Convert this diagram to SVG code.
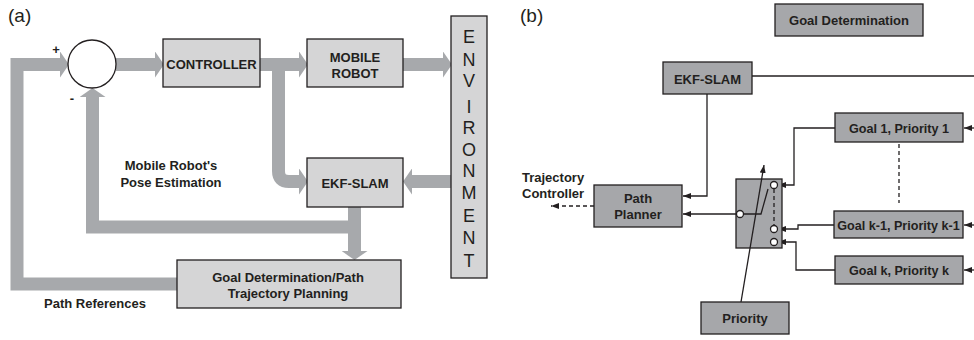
<svg xmlns="http://www.w3.org/2000/svg" width="974" height="340" viewBox="0 0 974 340">
  <style>
    text { font-family: "Liberation Sans", Arial, sans-serif; fill: #231f20; }
    .lbl { font-size: 13px; font-weight: bold; text-anchor: middle; }
    .left { text-anchor: start; }
    .goal { font-size: 12.6px; font-weight: bold; text-anchor: middle; }
    .env { font-size: 18px; text-anchor: middle; }
    .tag { font-size: 19px; }
    .boxA { fill: #d5d5d6; stroke: #231f20; stroke-width: 1.3; }
    .boxB { fill: #a6a7aa; stroke: #231f20; stroke-width: 1.3; }
    .fat { fill: none; stroke: #a7a9ac; stroke-width: 13; stroke-linejoin: miter; marker-end: url(#fatHead); }
    .plain { marker-end: none; }
    .thin { fill: none; stroke: #231f20; stroke-width: 1.3; }
    .arr { marker-end: url(#thinHead); }
    .dash { stroke-dasharray: 4 3; }
    .pin { fill: #ffffff; stroke: #231f20; stroke-width: 1.3; }
  </style>
  <defs>
    <marker id="fatHead" markerUnits="userSpaceOnUse" markerWidth="9" markerHeight="26" viewBox="0 0 9 26" refX="0" refY="13" orient="auto">
      <path d="M0,0 L9,13 L0,26 z" fill="#a7a9ac"/>
    </marker>
    <marker id="thinHead" markerUnits="userSpaceOnUse" markerWidth="8" markerHeight="6" viewBox="0 0 8 6" refX="8" refY="3" orient="auto">
      <path d="M0,0 L8,3 L0,6 z" fill="#231f20"/>
    </marker>
  </defs>

  <!-- panel (a): feedback control loop -->
  <text class="tag" x="8" y="22">(a)</text>

  <g id="a-connectors">
    <path class="fat" d="M116,64.5 H155"/>
    <path class="fat" d="M260,64.5 H299"/>
    <path class="fat" d="M278.5,64.5 V171 Q278.5,181.5 289,181.5 H299"/>
    <path class="fat" d="M403,64.5 H443"/>
    <path class="fat" d="M451,181.5 H412"/>
    <path class="fat plain" d="M354.5,227 H92.5 V98"/>
    <path class="fat" d="M92.5,120 V97"/>
    <path class="fat" d="M354.5,207 V251"/>
    <path class="fat" d="M177,284 H17 V64.5 H60"/>
    <text class="lbl" x="171" y="170">Mobile Robot's</text>
    <text class="lbl" x="171" y="187">Pose Estimation</text>
    <text class="lbl" x="95" y="307.5">Path References</text>
    <text class="lbl" x="56" y="54">+</text>
    <text class="lbl" x="72" y="103">-</text>
  </g>

  <g id="a-sum">
    <circle cx="92" cy="64" r="24" fill="#ffffff" stroke="#231f20" stroke-width="1.3"/>
  </g>

  <g id="a-controller">
    <rect class="boxA" x="163" y="39" width="97" height="48"/>
    <text class="lbl" x="211.5" y="68.5">CONTROLLER</text>
  </g>

  <g id="a-robot">
    <rect class="boxA" x="307" y="39" width="96" height="48"/>
    <text class="lbl" x="355" y="61.5">MOBILE</text>
    <text class="lbl" x="355" y="77.5">ROBOT</text>
  </g>

  <g id="a-ekf">
    <rect class="boxA" x="307" y="158" width="96" height="49"/>
    <text class="lbl" x="355" y="187.5">EKF-SLAM</text>
  </g>

  <g id="a-goal">
    <rect class="boxA" x="177" y="260" width="224" height="48"/>
    <text class="lbl" x="288" y="281.5">Goal Determination/Path</text>
    <text class="lbl" x="288" y="297.5">Trajectory Planning</text>
  </g>

  <g id="a-environment">
    <rect class="boxA" x="451" y="16" width="36" height="262"/>
    <text class="env" x="469" y="42.5">E</text>
    <text class="env" x="469" y="65.5">N</text>
    <text class="env" x="469" y="87">V</text>
    <text class="env" x="469" y="112.5">I</text>
    <text class="env" x="469" y="134">R</text>
    <text class="env" x="469" y="156">O</text>
    <text class="env" x="469" y="177">N</text>
    <text class="env" x="469" y="199">M</text>
    <text class="env" x="469" y="222">E</text>
    <text class="env" x="469" y="244">N</text>
    <text class="env" x="469" y="266.5">T</text>
  </g>

  <!-- panel (b): goal selection by priority -->
  <text class="tag" x="520" y="22">(b)</text>

  <g id="b-connectors">
    <path class="thin" d="M752,76 H974"/>
    <path class="thin arr" d="M707,94 V196 H683"/>
    <path class="thin arr" d="M736,214 H683"/>
    <path class="thin arr dash" d="M594,206 H551"/>
    <path class="thin arr" d="M835,128 H794 V185 H778"/>
    <path class="thin arr" d="M834,225 H798 V229 H778"/>
    <path class="thin arr" d="M835,270 H796 V242 H778"/>
    <path class="thin arr" d="M974,128 H964"/>
    <path class="thin arr" d="M974,225 H964"/>
    <path class="thin arr" d="M974,270 H964"/>
    <path class="thin dash" d="M899,144 V203"/>
    <text class="lbl left" x="522" y="181.5">Trajectory</text>
    <text class="lbl left" x="522" y="197.5">Controller</text>
  </g>

  <g id="b-goal-determination">
    <rect class="boxB" x="775" y="4" width="148" height="32"/>
    <text class="lbl" x="849" y="24.5">Goal Determination</text>
  </g>

  <g id="b-ekf">
    <rect class="boxB" x="663" y="62" width="89" height="32"/>
    <text class="lbl" x="707.5" y="83.5">EKF-SLAM</text>
  </g>

  <g id="b-planner">
    <rect class="boxB" x="594" y="185" width="88" height="42"/>
    <text class="lbl" x="638" y="202.5">Path</text>
    <text class="lbl" x="638" y="218.5">Planner</text>
  </g>

  <g id="b-switch">
    <rect class="boxB" x="736" y="179" width="46" height="69"/>
    <path class="thin dash" d="M774,189 V225"/>
    <path class="thin" d="M743.5,214 H761 L768,189"/>
    <circle class="pin" cx="740" cy="214" r="3.5"/>
    <circle class="pin" cx="774" cy="185" r="3.5"/>
    <circle class="pin" cx="774" cy="229" r="3.5"/>
    <circle class="pin" cx="774" cy="242" r="3.5"/>
    <!-- priority selector acting on the switch -->
    <path class="thin arr" d="M741,302 L764,165"/>
  </g>

  <g id="b-priority">
    <rect class="boxB" x="701" y="302" width="88" height="32"/>
    <text class="lbl" x="745" y="322.5">Priority</text>
  </g>

  <g id="b-goal-1">
    <rect class="boxB" x="835" y="113" width="128" height="29"/>
    <text class="goal" x="899" y="132.5">Goal 1, Priority 1</text>
  </g>

  <g id="b-goal-k-1">
    <rect class="boxB" x="834" y="211" width="129" height="27"/>
    <text class="goal" x="898.5" y="229.5">Goal k-1, Priority k-1</text>
  </g>

  <g id="b-goal-k">
    <rect class="boxB" x="835" y="256" width="128" height="28"/>
    <text class="goal" x="899" y="274.5">Goal k, Priority k</text>
  </g>
</svg>
